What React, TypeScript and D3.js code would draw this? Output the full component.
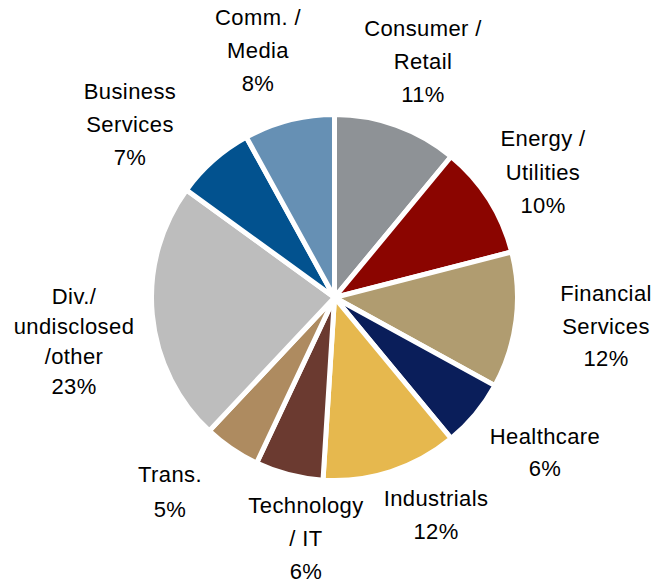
import { useMemo } from 'react';
import * as d3 from 'd3';

// sectors clockwise from 12 o'clock
const sectors = [
  'Consumer / Retail',
  'Energy / Utilities',
  'Financial Services',
  'Healthcare',
  'Industrials',
  'Technology / IT',
  'Trans.',
  'Div./ undisclosed /other',
  'Business Services',
  'Comm. / Media',
];
const shares = [11, 10, 12, 6, 12, 6, 5, 23, 7, 8];
const labelLines = [
  ['Consumer /', 'Retail'],
  ['Energy /', 'Utilities'],
  ['Financial', 'Services'],
  ['Healthcare'],
  ['Industrials'],
  ['Technology', '/ IT'],
  ['Trans.'],
  ['Div./', 'undisclosed', '/other'],
  ['Business', 'Services'],
  ['Comm. /', 'Media'],
];
const colors = [
  '#8e9296',
  '#8b0500',
  '#b09c70',
  '#0a1e5a',
  '#e6b84e',
  '#6b3a30',
  '#ae8b60',
  '#bdbdbd',
  '#02528f',
  '#6690b4',
];

// label anchor: center x, first baseline, line gap
const labelPos = [
  { x: 423, y: 36, gap: 33 },
  { x: 543, y: 146, gap: 33.5 },
  { x: 606, y: 301, gap: 32.5 },
  { x: 545, y: 444, gap: 32 },
  { x: 436, y: 506, gap: 33 },
  { x: 306, y: 513, gap: 33 },
  { x: 170, y: 482, gap: 35 },
  { x: 74, y: 304, gap: 30 },
  { x: 130, y: 99, gap: 33 },
  { x: 258, y: 25, gap: 33 },
];

const width = 668;
const height = 583;
const cx = 334.5;
const cy = 297.5;
const radius = 183;

export default function App() {
  const arcs = useMemo(() => {
    const pie = d3
      .pie<number>()
      .sort(null)
      .value((d) => d);
    return pie(shares);
  }, []);
  const arc = d3.arc<d3.PieArcDatum<number>>().innerRadius(0).outerRadius(radius);

  return (
    <svg
      width={width}
      height={height}
      style={{ position: 'absolute', left: 0, top: 0, background: '#fff' }}
      fontFamily="'Liberation Sans', Arial, sans-serif"
    >
      <g transform={`translate(${cx},${cy})`}>
        {arcs.map((a, i) => (
          <path
            key={sectors[i]}
            d={arc(a) ?? ''}
            fill={colors[i]}
            stroke="#fff"
            strokeWidth={5}
            strokeLinejoin="miter"
          />
        ))}
      </g>
      {labelLines.map((lines, i) => {
        const p = labelPos[i];
        const all = [...lines, `${shares[i]}%`];
        return (
          <text key={sectors[i]} textAnchor="middle" fontSize={22} letterSpacing={0.4} fill="#000">
            {all.map((t, j) => (
              <tspan key={j} x={p.x} y={p.y + j * p.gap}>
                {t}
              </tspan>
            ))}
          </text>
        );
      })}
    </svg>
  );
}
